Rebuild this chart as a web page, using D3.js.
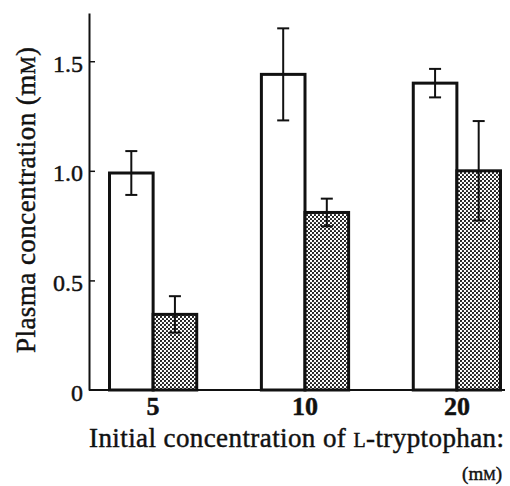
<!DOCTYPE html>
<html>
<head>
<meta charset="utf-8">
<script src="https://cdn.jsdelivr.net/npm/d3@7"></script>
<style>
  html, body { margin: 0; padding: 0; background: #fff; }
  svg { display: block; }
  svg text { font-family: "Liberation Serif", "DejaVu Serif", "Noto Serif", "Times New Roman", Times, serif !important; fill: #111; stroke: #111; stroke-width: 0.45px; }
</style>
</head>
<body>
<div id="chart"></div>
<script>
// ---- data ----
const categories = ["5", "10", "20"];
const seriesNames = ["open", "dotted"];
const openMeans = [0.99, 1.44, 1.40];
const openErrors = [0.10, 0.21, 0.065];
const dottedMeans = [0.345, 0.81, 1.00];
const dottedErrors = [0.083, 0.063, 0.227];
const yTickValues = [0, 0.5, 1.0, 1.5];
const yTickLabels = ["0", "0.5", "1.0", "1.5"];
const yAxisMax = 1.72;

const FONT = "'Liberation Serif', 'DejaVu Serif', 'Times New Roman', serif";
const W = 510, H = 486;
const svg = d3.select("#chart").append("svg").attr("width", W).attr("height", H)
  .attr("viewBox", `0 0 ${W} ${H}`).style("font-family", FONT);

const defs = svg.append("defs");
const pat = defs.append("pattern").attr("id", "dots")
  .attr("patternUnits", "userSpaceOnUse").attr("width", 4).attr("height", 4);
pat.append("rect").attr("width", 4).attr("height", 4).attr("fill", "#fff");
pat.append("circle").attr("cx", 1).attr("cy", 1).attr("r", 1.1).attr("fill", "#111");
pat.append("circle").attr("cx", 3).attr("cy", 3).attr("r", 1.1).attr("fill", "#111");

const y = d3.scaleLinear().domain([0, yAxisMax]).range([390, 13]);
const x = d3.scaleBand().domain(categories).range([89, 521]).paddingInner(0.4257).paddingOuter(0.135);
const xs = d3.scaleBand().domain(seriesNames).range([0, x.bandwidth()]);

const data = [];
categories.forEach((c, i) => {
  data.push({cat: c, s: "open", v: openMeans[i], e: openErrors[i]});
  data.push({cat: c, s: "dotted", v: dottedMeans[i], e: dottedErrors[i]});
});

// bars
svg.append("g").selectAll("rect").data(data).join("rect")
  .attr("x", d => x(d.cat) + xs(d.s))
  .attr("y", d => y(d.v))
  .attr("width", xs.bandwidth())
  .attr("height", d => y(0) - y(d.v))
  .attr("fill", d => d.s === "open" ? "#fff" : "url(#dots)")
  .attr("stroke", "#111")
  .attr("stroke-width", 3);

// error bars
const eg = svg.append("g").attr("stroke", "#111");
const cx = d => x(d.cat) + xs(d.s) + xs.bandwidth() / 2;
eg.selectAll("line.v").data(data).join("line").attr("class", "v")
  .attr("x1", cx).attr("x2", cx)
  .attr("y1", d => y(d.v + d.e)).attr("y2", d => y(d.v - d.e))
  .attr("stroke-width", 2);
eg.selectAll("line.t").data(data).join("line").attr("class", "t")
  .attr("x1", d => cx(d) - 6).attr("x2", d => cx(d) + 6)
  .attr("y1", d => y(d.v + d.e)).attr("y2", d => y(d.v + d.e))
  .attr("stroke-width", 2);
eg.selectAll("line.b").data(data).join("line").attr("class", "b")
  .attr("x1", d => cx(d) - 6).attr("x2", d => cx(d) + 6)
  .attr("y1", d => y(d.v - d.e)).attr("y2", d => y(d.v - d.e))
  .attr("stroke-width", 2);

// y axis
const yAxis = d3.axisLeft(y).tickValues(yTickValues)
  .tickFormat((d, i) => yTickLabels[i])
  .tickSizeInner(-6).tickSizeOuter(0).tickPadding(6);
const yg = svg.append("g").attr("transform", "translate(89,0)").call(yAxis)
  .attr("font-family", FONT);
yg.select(".domain").attr("stroke", "#111").attr("stroke-width", 2);
yg.selectAll(".tick line").attr("stroke", "#111").attr("stroke-width", 1.5)
  .filter(d => d === 0).remove();
yg.selectAll(".tick text").attr("font-size", 24)
  .attr("fill", "#111").attr("dy", "0.42em");

// x axis baseline
svg.append("line").attr("x1", 89).attr("x2", 505).attr("y1", y(0)).attr("y2", y(0))
  .attr("stroke", "#111").attr("stroke-width", 2);

const xAxis = d3.axisBottom(x).tickSize(0).tickPadding(6.5);
const xg = svg.append("g").attr("transform", `translate(0,${y(0)})`).call(xAxis)
  .attr("font-family", FONT);
xg.select(".domain").remove();
xg.selectAll(".tick")
  .attr("transform", d => `translate(${x(d) + xs.bandwidth()},0)`);
xg.selectAll(".tick text").attr("font-size", 26).attr("font-weight", "bold")
  .attr("fill", "#111");

// x title
const xt = svg.append("text").attr("x", 89).attr("y", 447).attr("font-size", 27)
  .attr("textLength", 415).attr("lengthAdjust", "spacing");
xt.append("tspan").text("Initial concentration of ");
xt.append("tspan").attr("font-size", 20).text("L");
xt.append("tspan").text("-tryptophan:");

const xt2 = svg.append("text").attr("x", 502).attr("y", 480).attr("font-size", 19)
  .attr("text-anchor", "end");
xt2.append("tspan").text("(m");
xt2.append("tspan").attr("font-size", 14).text("M");
xt2.append("tspan").text(")");

// y title
const yt = svg.append("text").attr("transform", "translate(35,200) rotate(-90)")
  .attr("text-anchor", "middle").attr("font-size", 27)
  .attr("textLength", 306).attr("lengthAdjust", "spacing");
yt.append("tspan").text("Plasma concentration (m");
yt.append("tspan").attr("font-size", 20).text("M");
yt.append("tspan").text(")");
</script>
</body>
</html>
